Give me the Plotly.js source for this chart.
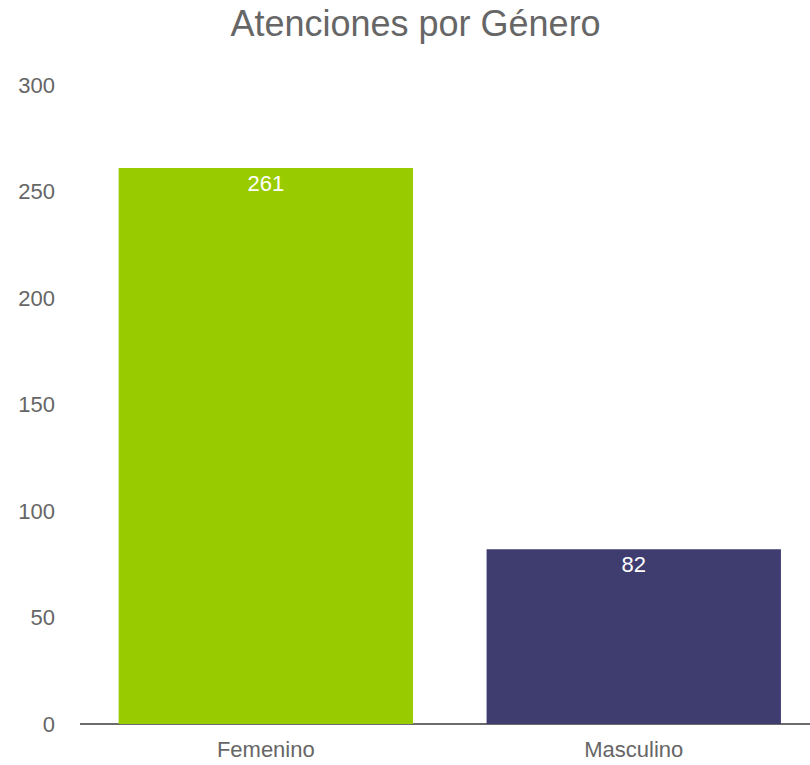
<!DOCTYPE html>
<html>
<head>
<meta charset="utf-8">
<script src="https://cdn.plot.ly/plotly-3.0.1.min.js"></script>
<style>html,body{margin:0;padding:0;background:#fff;}#chart{width:810px;height:765px;}</style>
</head>
<body>
<div id="chart"></div>
<script>
const categories = ["Femenino", "Masculino"];
const values = [261, 82];
const barColors = ["#99CC00", "#3F3C6F"];
const yTicks = [0, 50, 100, 150, 200, 250, 300];

const trace = {
  type: "bar",
  x: categories,
  y: values,
  marker: { color: barColors },
  width: 0.8,
  text: values.map(String),
  textposition: "inside",
  insidetextanchor: "end",
  textangle: 0,
  textfont: { family: "Liberation Sans, Arial, sans-serif", size: 22, color: "#ffffff" },
  hoverinfo: "x+y"
};

const layout = {
  width: 810,
  height: 765,
  margin: { l: 80, r: 0, t: 85, b: 41 },
  paper_bgcolor: "#ffffff",
  plot_bgcolor: "#ffffff",
  showlegend: false,
  font: { family: "Liberation Sans, Arial, sans-serif", color: "#666666" },
  title: {
    text: "Atenciones por Género",
    font: { family: "Liberation Sans, Arial, sans-serif", size: 36, color: "#666666" },
    x: 0.513,
    xanchor: "center",
    yref: "container",
    y: 0.969,
    yanchor: "middle"
  },
  xaxis: {
    type: "category",
    range: [-0.505, 1.479],
    showgrid: false,
    zeroline: false,
    showline: false,
    ticks: "",
    ticklabelstandoff: 10,
    tickfont: { size: 22, color: "#666666" },
    fixedrange: true
  },
  yaxis: {
    range: [0, 300],
    tickvals: yTicks,
    ticktext: yTicks.map(String),
    showgrid: false,
    zeroline: true,
    zerolinecolor: "#6b6b6b",
    zerolinewidth: 2.5,
    showline: false,
    ticks: "",
    ticklabelstandoff: 24,
    tickfont: { size: 22, color: "#666666" },
    fixedrange: true
  }
};

Plotly.newPlot("chart", [trace], layout, { displayModeBar: false, staticPlot: true });
</script>
</body>
</html>
